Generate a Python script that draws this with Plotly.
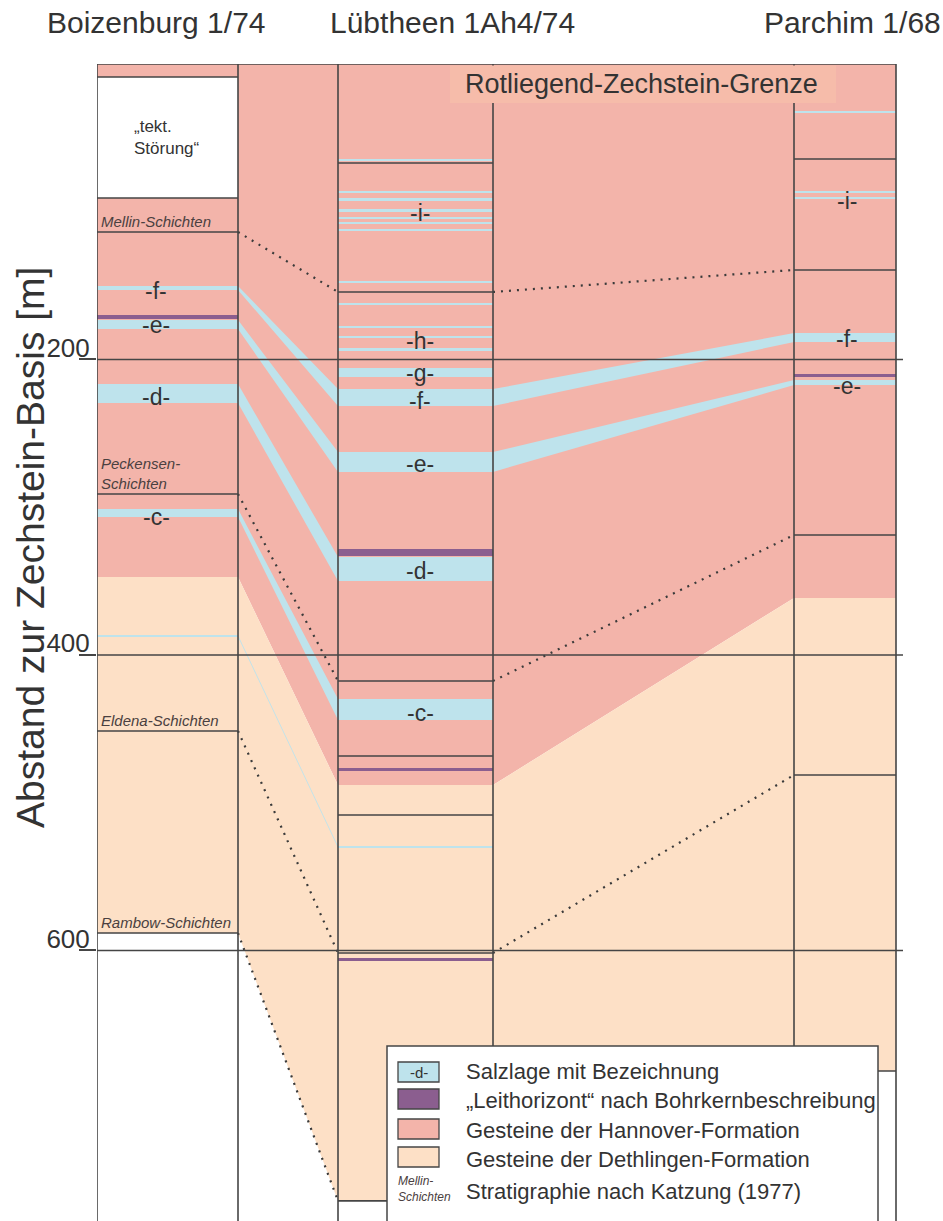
import plotly.graph_objects as go

# ---------------------------------------------------------------- data ----
# depths in m below the Rotliegend-Zechstein boundary (= Zechstein base)
WELL_NAMES = ["Boizenburg 1/74", "Lübtheen 1Ah4/74", "Parchim 1/68"]

HANNOVER_BASE = [347.2, 488.0, 361.4]      # top of Dethlingen formation
COLUMN_BOTTOM = [588.2, 769.5, 681.6]      # end of drawn profile
TEKT_TOP, TEKT_BASE = 8.8, 90.7            # "tekt. Störung" in Boizenburg

# stratigraphy after Katzung (1977), correlated boundaries
STRAT_NAMES = ["Mellin-Schichten", "Peckensen-<br>Schichten", "Eldena-Schichten", "Rambow-Schichten"]
STRAT_BOI = [113.7, 291.0, 451.4, 588.2]
STRAT_LUB = [154.3, 417.6, 601.7, 769.5]
STRAT_PAR = [139.4, 318.8, 481.2, None]

# further boundary lines inside the columns
LINES_BOI = [8.8, 90.7]
LINES_LUB = [67.0, 468.4, 508.3]
LINES_PAR = [64.3, 681.6]

# correlated salt layers  (f, e, d, c, unnamed)
SALT_TOP_BOI = [150.3, 173.3, 216.6, 301.2, 386.5]
SALT_BOT_BOI = [153.0, 179.4, 229.4, 306.6, 387.8]
SALT_TOP_LUB = [220.0, 262.6, 333.7, 429.8, 529.3]
SALT_BOT_LUB = [231.5, 276.1, 349.9, 444.0, 530.6]
SALT_TOP_PAR = [182.1, 213.9, None, None, None]
SALT_BOT_PAR = [188.2, 217.3, None, None, None]

# salt layers only shown in one well
LOCAL_SALT_TOP_LUB = [64.3, 86.0, 90.7, 98.1, 103.6, 106.9, 111.7, 146.9, 161.8, 177.3, 184.1, 192.2, 205.8]
LOCAL_SALT_BOT_LUB = [65.7, 87.3, 92.7, 100.2, 104.9, 108.3, 113.0, 148.2, 163.1, 178.7, 185.4, 194.2, 211.8]
LOCAL_SALT_TOP_PAR = [31.8, 86.0, 90.0]
LOCAL_SALT_BOT_PAR = [33.2, 87.3, 91.4]

# "Leithorizont" (marker horizons)
LEIT_TOP_BOI = [169.9]
LEIT_BOT_BOI = [172.6]
LEIT_TOP_LUB = [328.3, 476.5, 605.1]
LEIT_BOT_LUB = [333.0, 478.5, 607.1]
LEIT_TOP_PAR = [209.8]
LEIT_BOT_PAR = [211.8]

# salt designations
LABEL_TEXT_BOI = ["-f-", "-e-", "-d-", "-c-"]
LABEL_DEPTH_BOI = [153.6, 176.6, 225.4, 306.6]
LABEL_TEXT_LUB = ["-i-", "-h-", "-g-", "-f-", "-e-", "-d-", "-c-"]
LABEL_DEPTH_LUB = [100.8, 187.5, 209.1, 228.1, 270.7, 343.1, 439.3]
LABEL_TEXT_PAR = ["-i-", "-f-", "-e-"]
LABEL_DEPTH_PAR = [92.7, 186.1, 217.9]

Y_TICKS = [200, 400, 600]
Y_TICK_TEXT = ["200", "400", "600"]

LEGEND_TEXT = ["Salzlage mit Bezeichnung", "„Leithorizont“ nach Bohrkernbeschreibung",
               "Gesteine der Hannover-Formation", "Gesteine der Dethlingen-Formation",
               "Stratigraphie nach Katzung (1977)"]

# --------------------------------------------------------------- layout ----
W, H = 943, 1221
PL, PR, PT, PB = 97, 903, 64, 1221       # plot area in px
Y_MAX = 783.1
COL_X = [(97, 238), (338, 493), (794, 896)]   # column edges (x axis = px)
LABEL_X = [156, 420, 847]

PINK = "#f3b4aa"
PEACH = "#fde0c6"
BLUE = "#bee3ec"
PURPLE = "#8b5e8f"
LINE = "#454545"
TXT = "#333333"
FONT = "Liberation Sans, Arial, sans-serif"


def pxx(p):
    return (p - PL) / (PR - PL)


def pxy(p):
    return (PB - p) / (PB - PT)


fig = go.Figure()


def add_fill(xs, ys, color):
    fig.add_trace(go.Scatter(x=xs, y=ys, mode="lines", fill="toself", fillcolor=color,
                             line=dict(width=0, color=color), hoverinfo="skip",
                             showlegend=False))


def add_lines(xs, ys, color=LINE, width=1.5, dash=None):
    fig.add_trace(go.Scatter(x=xs, y=ys, mode="lines",
                             line=dict(width=width, color=color, dash=dash),
                             hoverinfo="skip", showlegend=False, connectgaps=False))


def rects(col, tops, bots):
    xl, xr = COL_X[col]
    xs, ys = [], []
    for t, b in zip(tops, bots):
        xs += [xl, xr, xr, xl, xl, None]
        ys += [t, t, b, b, t, None]
    return xs, ys


# formation fills
hb, cb = HANNOVER_BASE, COLUMN_BOTTOM
(b0, b1), (l0, l1), (p0, p1) = COL_X
add_fill([b0, p1, p1, p0, l1, l0, b1, b0, b0],
         [0, 0, hb[2], hb[2], hb[1], hb[1], hb[0], hb[0], 0], PINK)
add_fill([b0, b1, l0, l1, p0, p1, p1, p0, l1, l0, b1, b0, b0],
         [hb[0], hb[0], hb[1], hb[1], hb[2], hb[2], cb[2], cb[2], cb[1], cb[1], cb[0], cb[0], hb[0]],
         PEACH)
add_fill([b0, b1, b1, b0, b0], [TEKT_TOP, TEKT_TOP, TEKT_BASE, TEKT_BASE, TEKT_TOP], "#ffffff")

# salt layers
sx, sy = [], []
for i in range(len(SALT_TOP_BOI)):
    tops = [SALT_TOP_BOI[i], SALT_TOP_LUB[i], SALT_TOP_PAR[i]]
    bots = [SALT_BOT_BOI[i], SALT_BOT_LUB[i], SALT_BOT_PAR[i]]
    xt, yt, xb, yb = [], [], [], []
    for (xl, xr), t, b in zip(COL_X, tops, bots):
        if t is None:
            continue
        xt += [xl, xr]
        yt += [t, t]
        xb += [xl, xr]
        yb += [b, b]
    sx += xt + xb[::-1] + [xt[0], None]
    sy += yt + yb[::-1] + [yt[0], None]
for col, tops, bots in [(1, LOCAL_SALT_TOP_LUB, LOCAL_SALT_BOT_LUB),
                        (2, LOCAL_SALT_TOP_PAR, LOCAL_SALT_BOT_PAR)]:
    xs, ys = rects(col, tops, bots)
    sx += xs
    sy += ys
add_fill(sx, sy, BLUE)

# marker horizons
px_, py_ = [], []
for col, tops, bots in [(0, LEIT_TOP_BOI, LEIT_BOT_BOI), (1, LEIT_TOP_LUB, LEIT_BOT_LUB),
                        (2, LEIT_TOP_PAR, LEIT_BOT_PAR)]:
    xs, ys = rects(col, tops, bots)
    px_ += xs
    py_ += ys
add_fill(px_, py_, PURPLE)

# boundary lines inside the columns
lx, ly = [], []
for col, depths in enumerate([LINES_BOI + STRAT_BOI, LINES_LUB + STRAT_LUB, LINES_PAR + STRAT_PAR]):
    xl, xr = COL_X[col]
    for d in depths:
        if d is None:
            continue
        lx += [xl, xr, None]
        ly += [d, d, None]
add_lines(lx, ly, width=1.6)

# dotted correlation lines
dx, dy = [], []
for vals in zip(STRAT_BOI, STRAT_LUB, STRAT_PAR):
    for k in range(2):
        if vals[k] is None or vals[k + 1] is None:
            continue
        dx += [COL_X[k][1], COL_X[k + 1][0], None]
        dy += [vals[k], vals[k + 1], None]
add_lines(dx, dy, color="#3a3a3a", width=2.2, dash="2px,6px")

# depth grid lines (drawn above fills)
gx, gy = [], []
for t in Y_TICKS:
    gx += [PL, PR, None]
    gy += [t, t, None]
add_lines(gx, gy, width=1.5)

# column frames
fx, fy = [b0, p1, None], [0, 0, None]
for xl, xr in COL_X:
    fx += [xl, xl, None, xr, xr, None]
    fy += [0, Y_MAX, None, 0, Y_MAX, None]
add_lines(fx, fy, width=1.6)


# ------------------------------------------------------------ annotations ----
def note(x, y, text, size, yref="paper", xanchor="center", yanchor="middle", color=TXT, **kw):
    return dict(x=pxx(x), y=y, xref="paper", yref=yref, text=text, showarrow=False,
                xanchor=xanchor, yanchor=yanchor,
                font=dict(size=size, color=color, family=FONT), **kw)


ann = []
for x, name in zip([156, 452, 852], WELL_NAMES):
    ann.append(note(x, pxy(23), name, 30))
ann.append(note(30, pxy(548), "Abstand zur Zechstein-Basis [m]", 39, textangle=-90))
ann.append(note(641, pxy(84), "Rotliegend-Zechstein-Grenze", 27))
ann.append(note(132, (TEKT_TOP + TEKT_BASE) / 2, "„tekt.<br>Störung“", 17, yref="y",
                xanchor="left", align="left"))
for name, d in zip(STRAT_NAMES, STRAT_BOI):
    ann.append(note(99, d, "<i>" + name + "</i>", 15, yref="y", xanchor="left",
                    yanchor="bottom", align="left", color="#4a4040"))
for col, texts, depths in [(0, LABEL_TEXT_BOI, LABEL_DEPTH_BOI), (1, LABEL_TEXT_LUB, LABEL_DEPTH_LUB),
                           (2, LABEL_TEXT_PAR, LABEL_DEPTH_PAR)]:
    for t, d in zip(texts, depths):
        ann.append(note(LABEL_X[col], d, t, 23, yref="y"))

# legend (drawn manually)
shapes = [
    dict(type="rect", xref="paper", yref="paper", x0=pxx(450), x1=pxx(836), y0=pxy(103), y1=pxy(65.5),
         fillcolor="#f6bcaa", line=dict(width=0), layer="above"),
    dict(type="rect", xref="paper", yref="paper", x0=pxx(387), x1=pxx(878), y0=pxy(1240), y1=pxy(1046),
         fillcolor="#ffffff", line=dict(width=1.5, color=LINE), layer="above"),
]
sw_colors = [BLUE, PURPLE, PINK, PEACH]
sw_top = [1062, 1089, 1119, 1147]
for c, t in zip(sw_colors, sw_top):
    shapes.append(dict(type="rect", xref="paper", yref="paper", x0=pxx(398), x1=pxx(439),
                       y0=pxy(t + 20), y1=pxy(t), fillcolor=c,
                       line=dict(width=1.3, color=LINE), layer="above"))
ann.append(note(418.5, pxy(1072), "-d-", 15))
ann.append(note(396, pxy(1189), "<i>Mellin-<br>Schichten</i>", 12, xanchor="left",
                align="left", color="#4a4040"))
for t, yc in zip(LEGEND_TEXT, [1071, 1100, 1130, 1159, 1191]):
    ann.append(note(464, pxy(yc), t, 22, xanchor="left"))

fig.update_layout(
    width=W, height=H,
    margin=dict(l=PL, r=W - PR, t=PT, b=H - PB, pad=0),
    paper_bgcolor="white", plot_bgcolor="white",
    showlegend=False,
    xaxis=dict(range=[PL, PR], visible=False, fixedrange=True),
    yaxis=dict(range=[Y_MAX, 0], autorange=False, tickmode="array", tickvals=Y_TICKS,
               ticktext=Y_TICK_TEXT, ticks="outside", ticklen=17, tickwidth=1.5, tickcolor=LINE,
               showgrid=False, zeroline=False, showline=False,
               ticklabelstandoff=-16, ticklabelshift=12,
               tickfont=dict(size=26, color=TXT, family=FONT)),
    shapes=shapes,
    annotations=ann,
)

fig.write_html("out.html", config={"displayModeBar": False},
               post_script="document.body.style.margin='0';")
